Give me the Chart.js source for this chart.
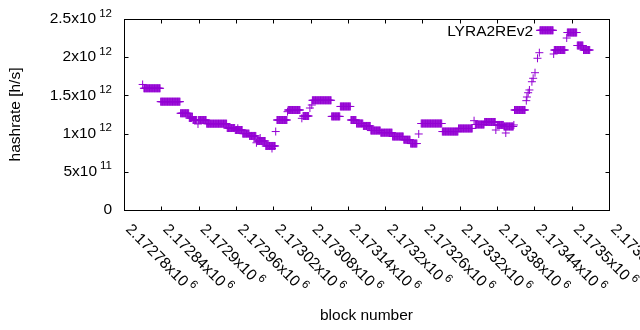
<!DOCTYPE html>
<html>
<head>
<meta charset="utf-8">
<script src="https://cdn.jsdelivr.net/npm/chart.js@4.4.0/dist/chart.umd.min.js"></script>
<style>
  body { margin: 0; background: #fff; }
  canvas { display: block; }
</style>
</head>
<body>
<canvas id="grafico" width="640" height="330"></canvas>
<script>
// runs of blocks with the same hashrate (x10^12 h/s)
const runFirst = [
  2172810, 2172812, 2172839, 2172871, 2172885, 2172890, 2172891, 2172899, 2172900, 2172913,
  2172946, 2172959, 2172963, 2172971, 2172982, 2172993, 2172994, 2172999, 2173008, 2173018,
  2173024, 2173026, 2173043, 2173044, 2173066, 2173068, 2173079, 2173082, 2173083, 2173114,
  2173128, 2173145, 2173154, 2173165, 2173177, 2173193, 2173212, 2173230, 2173241, 2173254,
  2173258, 2173292, 2173318, 2173343, 2173345, 2173360, 2173378, 2173380, 2173391, 2173394,
  2173407, 2173408, 2173427, 2173428, 2173430, 2173432, 2173436, 2173438, 2173441, 2173445,
  2173448, 2173449, 2173471, 2173472, 2173492, 2173493, 2173509, 2173519
];
const runLast = [
  2172810, 2172838, 2172870, 2172884, 2172889, 2172890, 2172897, 2172899, 2172912, 2172945,
  2172958, 2172970, 2172963, 2172981, 2172992, 2172993, 2173007, 2172999, 2173023, 2173018,
  2173024, 2173042, 2173043, 2173063, 2173066, 2173077, 2173079, 2173082, 2173113, 2173127,
  2173144, 2173153, 2173164, 2173176, 2173192, 2173211, 2173229, 2173240, 2173251, 2173254,
  2173291, 2173317, 2173340, 2173343, 2173359, 2173377, 2173378, 2173390, 2173406, 2173394,
  2173407, 2173425, 2173427, 2173428, 2173430, 2173432, 2173436, 2173438, 2173441, 2173445,
  2173448, 2173470, 2173471, 2173489, 2173492, 2173508, 2173518, 2173529
];
const runHash = [
  1.643, 1.593, 1.418, 1.266, 1.204, 1.221, 1.178, 1.126, 1.178, 1.130,
  1.073, 1.047, 1.070, 1.000, 0.969, 0.880, 0.903, 0.942, 0.838, 0.805,
  1.027, 1.178, 1.287, 1.309, 1.200, 1.230, 1.335, 1.374, 1.436, 1.225,
  1.355, 1.178, 1.132, 1.100, 1.040, 1.012, 0.962, 0.920, 0.870, 0.995,
  1.132, 1.027, 1.067, 1.169, 1.119, 1.152, 1.047, 1.113, 1.093, 1.008,
  1.113, 1.309, 1.431, 1.479, 1.535, 1.571, 1.679, 1.724, 1.797, 1.986,
  2.059, 2.352, 2.042, 2.094, 2.251, 2.323, 2.153, 2.094
];

// eixos
const xTickValues = [2172780, 2172840, 2172900, 2172960, 2173020, 2173080, 2173140,
  2173200, 2173260, 2173320, 2173380, 2173440, 2173500, 2173560];
const xTickText = ["2.17278x10", "2.17284x10", "2.1729x10", "2.17296x10", "2.17302x10",
  "2.17308x10", "2.17314x10", "2.1732x10", "2.17326x10", "2.17332x10", "2.17338x10",
  "2.17344x10", "2.1735x10", "2.17356x10"];
const xTickExp = "6";
const yTickValues = [0, 0.5e12, 1e12, 1.5e12, 2e12, 2.5e12];
const yTickText = ["0", "5x10", "1x10", "1.5x10", "2x10", "2.5x10"];
const yTickExp = ["", "11", "12", "12", "12", "12"];

const seriesName = "LYRA2REv2";
const xTitle = "block number";
const yTitle = "hashrate [h/s]";
const cor = "#9400d3";

// one point per block
const pontos = [];
runFirst.forEach((first, i) => {
  for (let b = first; b <= runLast[i]; b++) {
    pontos.push({ x: b, y: runHash[i] * 1e12 });
  }
});

const FONT = "Liberation Sans, Arial, sans-serif";
const MAIN = "15.5px " + FONT;
const SUP = "11.5px " + FONT;

// texto com expoente (ex: 2x10^12)
function larguraSup(ctx, txt, exp) {
  ctx.font = MAIN;
  let w = ctx.measureText(txt).width;
  if (exp) {
    ctx.font = SUP;
    w += 3 + ctx.measureText(exp).width;
  }
  return w;
}
function desenhaSup(ctx, txt, exp, x, y) {
  ctx.textAlign = "left";
  ctx.textBaseline = "middle";
  ctx.font = MAIN;
  ctx.fillText(txt, x, y);
  if (exp) {
    const w = ctx.measureText(txt).width;
    ctx.font = SUP;
    ctx.fillText(exp, x + w + 3, y - 5.5);
  }
}

const gnuplotLook = {
  id: "gnuplotLook",
  afterDraw(chart) {
    const ctx = chart.ctx;
    const a = chart.chartArea;
    const xs = chart.scales.x;
    const ys = chart.scales.y;
    ctx.save();
    ctx.strokeStyle = "#000";
    ctx.fillStyle = "#000";
    ctx.lineWidth = 1;

    // moldura
    const L = Math.round(a.left) + 0.5, R = Math.round(a.right) + 0.5;
    const T = Math.round(a.top) + 0.5, B = Math.round(a.bottom) + 0.5;
    ctx.strokeRect(L, T, R - L, B - T);

    // ticks para dentro, nos quatro lados
    ctx.beginPath();
    xTickValues.forEach((v) => {
      const px = Math.round(xs.getPixelForValue(v)) + 0.5;
      ctx.moveTo(px, B); ctx.lineTo(px, B - 4);
      ctx.moveTo(px, T); ctx.lineTo(px, T + 4);
    });
    yTickValues.forEach((v) => {
      const py = Math.round(ys.getPixelForValue(v)) + 0.5;
      ctx.moveTo(L, py); ctx.lineTo(L + 4, py);
      ctx.moveTo(R, py); ctx.lineTo(R - 4, py);
    });
    ctx.stroke();

    // rótulos do eixo y
    yTickValues.forEach((v, i) => {
      const py = ys.getPixelForValue(v);
      const w = larguraSup(ctx, yTickText[i], yTickExp[i]);
      desenhaSup(ctx, yTickText[i], yTickExp[i], a.left - 12 - w, py);
    });

    // rótulos do eixo x, girados -45
    xTickValues.forEach((v, i) => {
      const px = xs.getPixelForValue(v);
      ctx.save();
      ctx.translate(px + 4, a.bottom + 17);
      ctx.rotate(Math.PI / 4);
      desenhaSup(ctx, xTickText[i], xTickExp, 0, 0);
      ctx.restore();
    });

    // títulos
    ctx.font = MAIN;
    ctx.textAlign = "center";
    ctx.textBaseline = "middle";
    ctx.fillText(xTitle, (a.left + a.right) / 2, 316);
    ctx.save();
    ctx.translate(16, (a.top + a.bottom) / 2);
    ctx.rotate(-Math.PI / 2);
    ctx.fillText(yTitle, 0, 0);
    ctx.restore();

    // legenda
    ctx.textAlign = "right";
    ctx.fillText(seriesName, 533, 32);
    ctx.restore();
  },
};

new Chart(document.getElementById("grafico"), {
  type: "scatter",
  data: {
    datasets: [
      {
        label: seriesName,
        data: pontos,
        pointStyle: "cross",
        pointRadius: 4,
        pointBorderWidth: 1,
        borderColor: cor,
        backgroundColor: cor,
      },
    ],
  },
  options: {
    responsive: false,
    animation: false,
    layout: { padding: { left: 124, right: 31, top: 19, bottom: 120 } },
    plugins: { legend: { display: false }, tooltip: { enabled: false } },
    scales: {
      x: { type: "linear", min: 2172780, max: 2173560, display: false },
      y: { type: "linear", min: 0, max: 2.5e12, display: false },
    },
  },
  plugins: [gnuplotLook],
});
</script>
</body>
</html>
